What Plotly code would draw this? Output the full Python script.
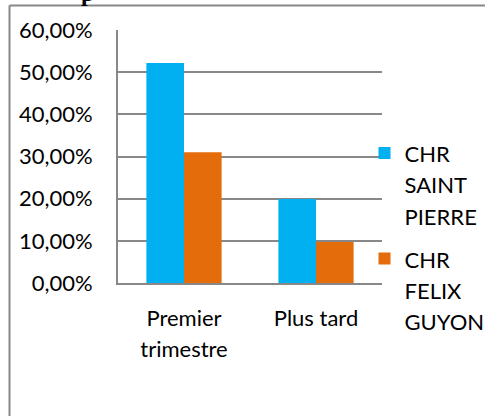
import plotly.graph_objects as go

categories = ["Premier<br>trimestre", "Plus tard"]
series_names = ["CHR<br>SAINT<br>PIERRE", "CHR<br>FELIX<br>GUYON"]
saint_pierre = [0.522, 0.199]
felix_guyon = [0.310, 0.097]
y_ticks = [0, 0.1, 0.2, 0.3, 0.4, 0.5, 0.6]
colors = ["#00B0F0", "#E46C0A"]

FONT = "Lato"
BASE = 24   # controls line spacing
GLYPH = 22  # visible glyph size


def sized(t):
    return "<br>".join(f'<span style="font-size:{GLYPH}px">{p}</span>' for p in t.split("<br>"))


L, R, T, B = 118, 382, 30, 283.5
W, H = 485, 416


def px(x):
    return (x - L) / (R - L)


def py(y):
    return (B - y) / (B - T)


fig = go.Figure()
for i, (name, vals, col) in enumerate(zip(series_names, [saint_pierre, felix_guyon], colors)):
    fig.add_trace(go.Bar(x=categories, y=vals, name=sized(name), marker_color=col,
                         marker_line_width=0, legendgroup=f"g{i}"))

gray = "#888888"
fig.update_layout(
    width=W, height=H,
    margin=dict(l=L, r=W - R, t=T, b=H - B, pad=0, autoexpand=False),
    paper_bgcolor="white", plot_bgcolor="white",
    separators=", ",
    bargap=0.43, bargroupgap=0,
    font=dict(family=FONT, size=BASE, color="black"),
    showlegend=True,
    legend=dict(x=px(364.5), xanchor="left", y=py(131), yanchor="top",
                valign="top", font=dict(family=FONT, size=BASE),
                bgcolor="rgba(0,0,0,0)", tracegroupgap=9, itemwidth=30),
    xaxis=dict(tickvals=categories, ticktext=[sized(c) for c in categories],
               showline=True, linecolor=gray, linewidth=2, showgrid=False,
               ticks="", ticklabelstandoff=12, fixedrange=True),
    yaxis=dict(range=[0, 0.6], tickvals=y_ticks, tickformat=".2%",
               tickfont=dict(family=FONT, size=GLYPH),
               showline=True, linecolor=gray, linewidth=2,
               showgrid=True, gridcolor=gray, gridwidth=2,
               zeroline=False, ticks="", ticklabelstandoff=19, fixedrange=True),
    shapes=[
        dict(type="line", xref="paper", yref="paper", x0=px(9.5), x1=px(9.5),
             y0=py(5.5), y1=py(420), line=dict(color=gray, width=2)),
        dict(type="line", xref="paper", yref="paper", x0=px(9.5), x1=px(490),
             y0=py(5.5), y1=py(5.5), line=dict(color=gray, width=2)),
    ],
    annotations=[
        dict(text="<b>p</b>", xref="paper", yref="paper", x=px(87), y=py(8),
             xanchor="center", yanchor="bottom", showarrow=False,
             font=dict(family="Liberation Serif", size=24, color="black")),
    ],
)

fig.write_html("out.html")
